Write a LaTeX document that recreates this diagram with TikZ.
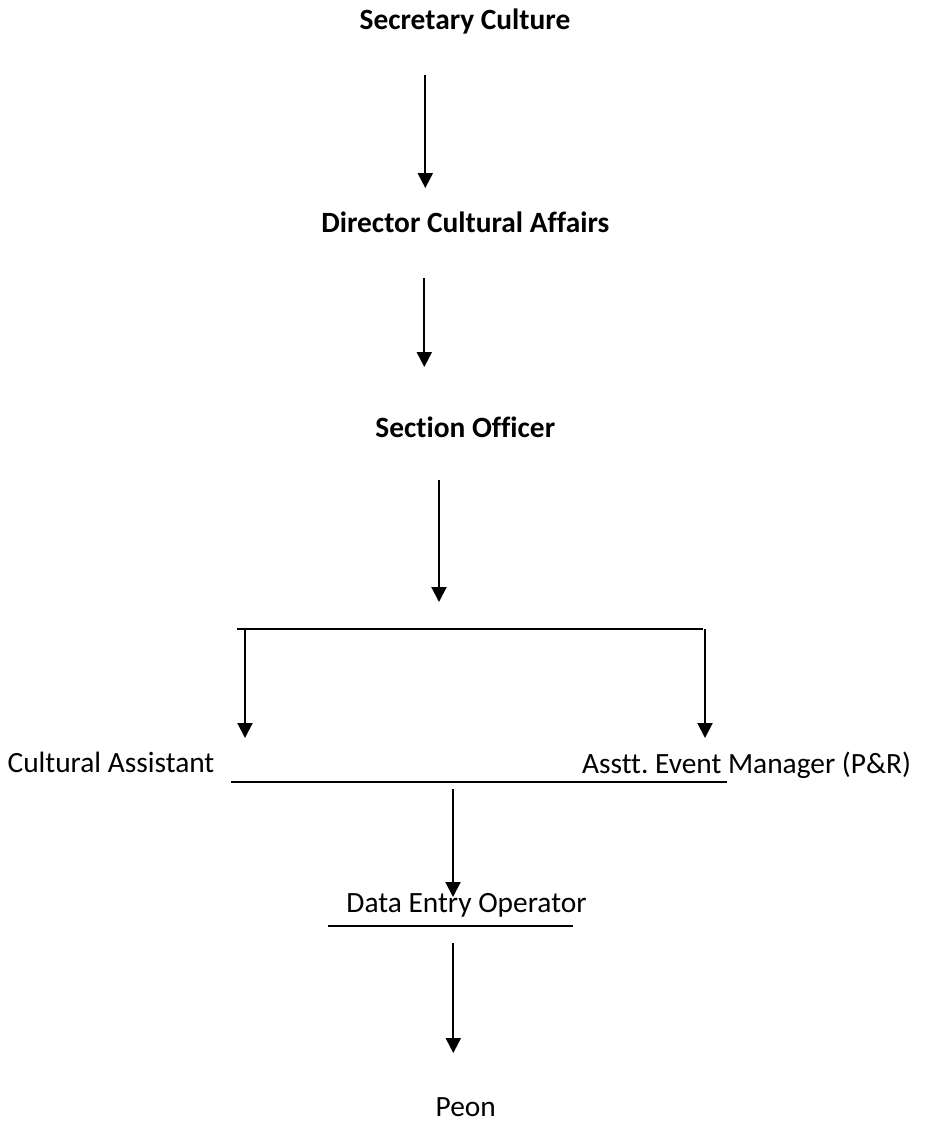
\documentclass[tikz,border=0pt]{standalone}
\usepackage{fontspec}
\setmainfont[Ligatures=NoCommon]{Carlito}
\usetikzlibrary{arrows.meta}
\frenchspacing
\begin{document}
\begin{tikzpicture}[x=1pt,y=-1pt,
  lbl/.style={inner sep=0pt,anchor=base,font=\fontsize{29.4}{34}\selectfont},
  blbl/.style={lbl,font=\fontsize{29.4}{34}\selectfont\bfseries},
  ln/.style={line width=2pt},
  arr/.style={ln,-{Triangle[width=15pt,length=15pt]}}]
\useasboundingbox (0,0) rectangle (925,1124);
\fill[white] (0,0) rectangle (925,1124);
% labels
\node[blbl] (sec) at (465,30) {Secretary Culture};
\node[blbl] (dir) at (465.3,232.3) {Director Cultural Affairs};
\node[blbl] (so) at (465.3,437.7) {Section Officer};
\node[lbl] (ca) at (111,772) {Cultural Assistant};
\node[lbl] (aem) at (746.5,773) {Asstt.\ Event Manager (P\&R)};
\node[lbl] (deo) at (466.5,912) {Data Entry Operator};
\node[lbl] (peon) at (465.8,1116) {Peon};
% coordinates
\coordinate (a1s) at (425.3,75);   \coordinate (a1e) at (425.3,188);
\coordinate (a2s) at (424.3,278);  \coordinate (a2e) at (424.3,367);
\coordinate (a3s) at (439,480);    \coordinate (a3e) at (439,602);
\coordinate (hl) at (237,629);     \coordinate (hr) at (703,629);
\coordinate (lts) at (245,629);    \coordinate (lte) at (245,738);
\coordinate (rts) at (705,629);    \coordinate (rte) at (705,738);
\coordinate (ll) at (231,781.5);   \coordinate (lr) at (727,781.5);
\coordinate (a4s) at (453,789);    \coordinate (a4e) at (453,897);
\coordinate (dl) at (328,926);     \coordinate (dr) at (573,926);
\coordinate (a5s) at (453.3,943);  \coordinate (a5e) at (453.3,1053);
% connectors
\draw[arr] (a1s) -- (a1e);
\draw[arr] (a2s) -- (a2e);
\draw[arr] (a3s) -- (a3e);
\draw[ln] (hl) -- (hr);
\draw[arr] (lts) -- (lte);
\draw[arr] (rts) -- (rte);
\draw[ln] (ll) -- (lr);
\draw[arr] (a4s) -- (a4e);
\draw[ln] (dl) -- (dr);
\draw[arr] (a5s) -- (a5e);
\end{tikzpicture}
\end{document}
